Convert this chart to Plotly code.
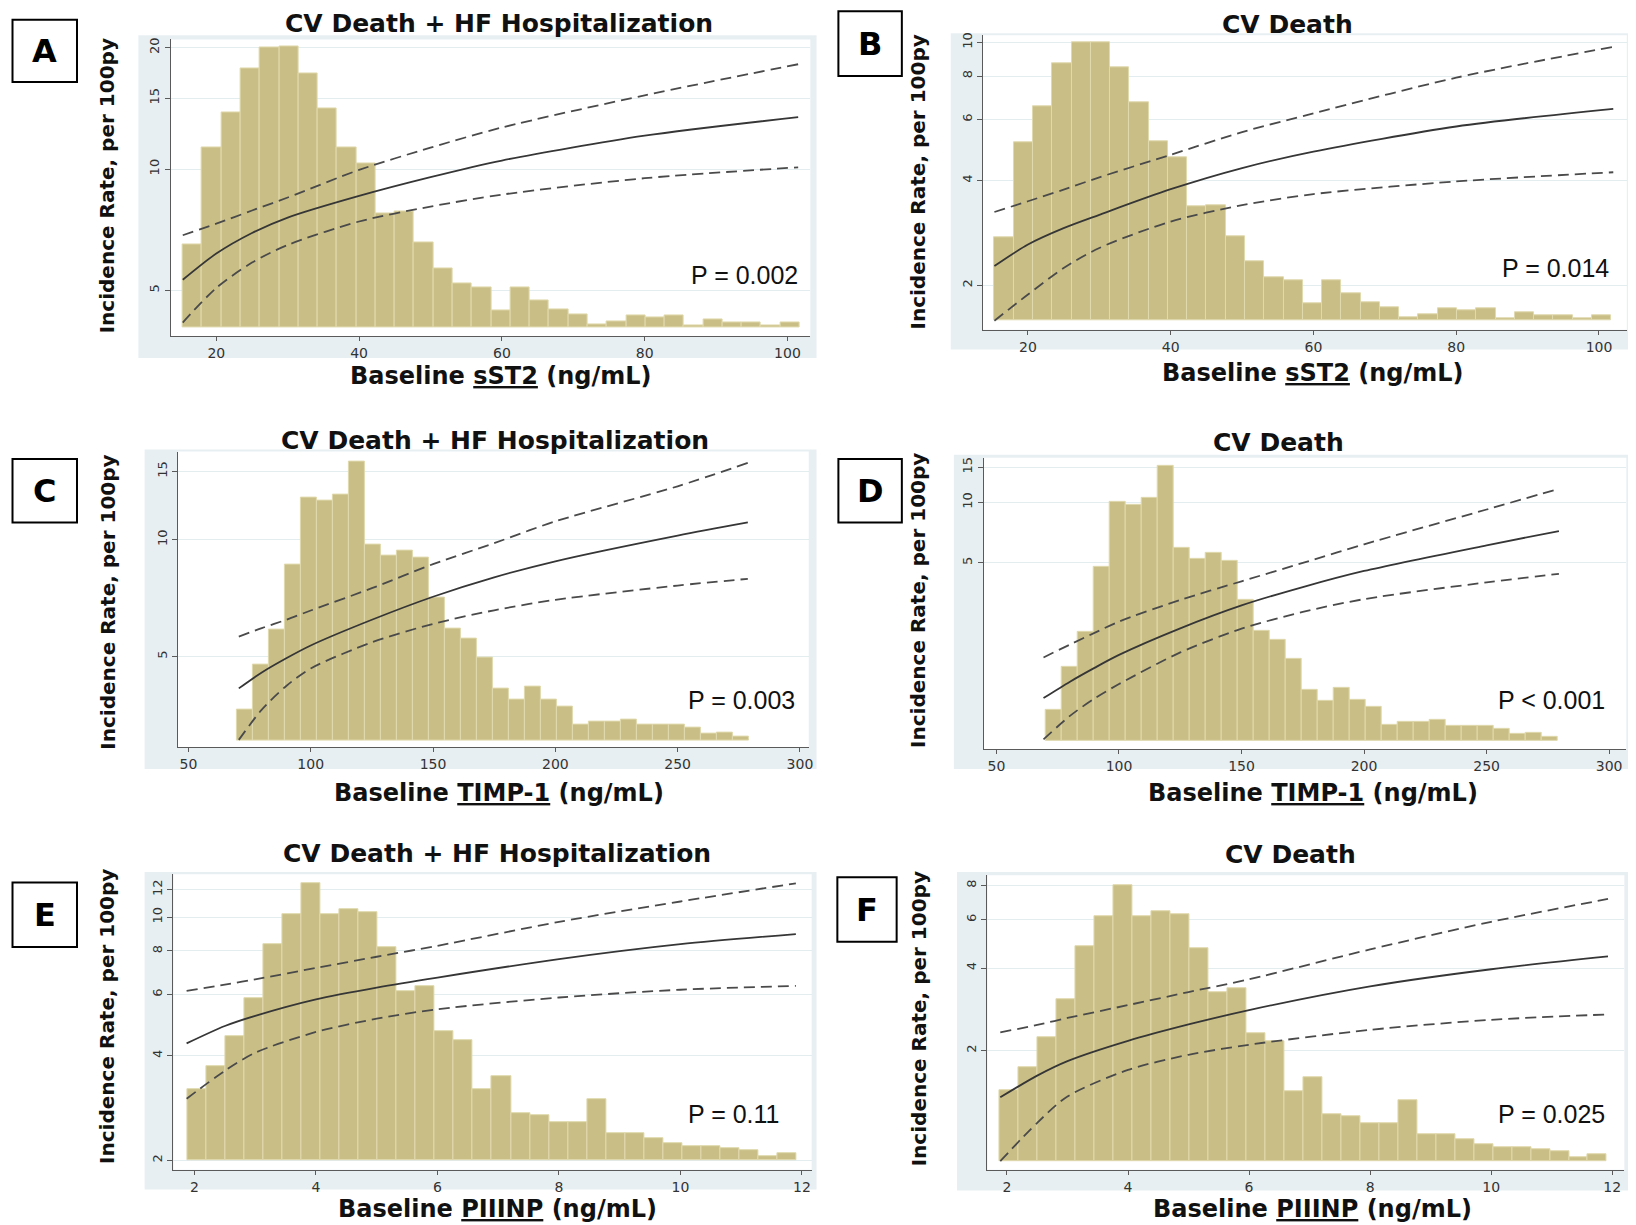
import plotly.graph_objects as go

# ---------------- data ----------------
# Histograms of the biomarker distribution (percent of patients per bin)
sst2_bin_start = 15.3
sst2_bin_width = 2.7
sst2_hist_pct = [3.02, 6.50, 7.79, 9.36, 10.11, 10.14, 9.20, 7.93, 6.52, 5.95, 4.14, 4.20,
                 3.08, 2.15, 1.59, 1.45, 0.64, 1.45, 0.99, 0.66, 0.48, 0.12, 0.24, 0.45,
                 0.36, 0.46, 0.08, 0.30, 0.18, 0.18, 0.08, 0.18]

timp1_bin_start = 70.0
timp1_bin_width = 6.53
timp1_hist_pct = [1.05, 2.54, 3.73, 5.93, 8.16, 8.05, 8.28, 9.37, 6.60, 6.21, 6.40, 6.15,
                  4.82, 3.75, 3.44, 2.79, 1.75, 1.38, 1.81, 1.39, 1.16, 0.54, 0.64, 0.64,
                  0.71, 0.53, 0.53, 0.53, 0.43, 0.25, 0.28, 0.15]

piiinp_bin_start = 1.88
piiinp_bin_width = 0.3135
piiinp_hist_pct = [2.18, 2.87, 3.78, 4.95, 6.57, 7.48, 8.43, 7.48, 7.64, 7.55, 6.50, 5.15,
                   5.30, 3.92, 3.66, 2.16, 2.57, 1.43, 1.38, 1.18, 1.18, 1.88, 0.82, 0.82,
                   0.69, 0.52, 0.44, 0.44, 0.39, 0.31, 0.13, 0.21]

# Incidence rate curves (per 100 py): fit, upper and lower 95% CI
a_x = [15.3, 20, 25, 30, 40, 50, 60, 80, 101.5]
a_fit = [5.31, 6.17, 6.94, 7.58, 8.58, 9.55, 10.5, 12.1, 13.45]
a_upper = [6.85, 7.32, 7.89, 8.50, 9.95, 11.30, 12.68, 15.24, 18.2]
a_lower = [4.16, 5.07, 5.86, 6.48, 7.41, 8.07, 8.64, 9.49, 10.1]

b_x = [15.3, 20, 25, 30, 40, 50, 60, 80, 102]
b_fit = [2.27, 2.62, 2.92, 3.19, 3.78, 4.35, 4.85, 5.73, 6.44]
b_upper = [3.25, 3.49, 3.77, 4.09, 4.75, 5.52, 6.25, 7.92, 9.72]
b_lower = [1.58, 1.88, 2.24, 2.56, 3.05, 3.40, 3.66, 3.98, 4.23]

c_x = [70.6, 80, 90, 100, 125, 150, 175, 200, 250, 278.7]
c_fit = [4.14, 4.55, 4.95, 5.34, 6.22, 7.13, 8.0, 8.8, 10.25, 11.08]
c_upper = [5.63, 5.92, 6.22, 6.57, 7.50, 8.65, 9.80, 11.15, 13.73, 15.77]
c_lower = [3.05, 3.65, 4.20, 4.66, 5.44, 6.07, 6.58, 7.00, 7.62, 7.93]

d_x = [69.2, 80, 90, 100, 125, 150, 175, 200, 250, 279.5]
d_fit = [1.06, 1.28, 1.50, 1.74, 2.36, 3.07, 3.79, 4.56, 6.12, 7.21]
d_upper = [1.69, 1.96, 2.24, 2.55, 3.27, 4.05, 5.0, 6.19, 9.23, 11.7]
d_lower = [0.66, 0.864, 1.055, 1.245, 1.79, 2.35, 2.85, 3.30, 4.00, 4.41]

e_x = [1.87, 2.5, 3, 4, 5, 6, 8, 10, 11.9]
e_fit = [4.34, 4.87, 5.21, 5.81, 6.28, 6.71, 7.58, 8.37, 8.95]
e_upper = [6.14, 6.40, 6.63, 7.15, 7.70, 8.28, 9.70, 11.10, 12.52]
e_lower = [3.01, 3.62, 4.08, 4.68, 5.11, 5.44, 5.88, 6.19, 6.35]

f_x = [1.89, 2.5, 3, 4, 5, 6, 8, 10, 11.93]
f_fit = [1.35, 1.62, 1.83, 2.17, 2.49, 2.81, 3.43, 3.96, 4.41]
f_upper = [2.33, 2.48, 2.63, 2.93, 3.27, 3.64, 4.68, 5.90, 7.15]
f_lower = [0.79, 1.09, 1.36, 1.70, 1.93, 2.10, 2.38, 2.59, 2.71]

# Text
panel_letters = ["A", "B", "C", "D", "E", "F"]
panel_titles = ["CV Death + HF Hospitalization", "CV Death",
                "CV Death + HF Hospitalization", "CV Death",
                "CV Death + HF Hospitalization", "CV Death"]
x_titles = ["Baseline <u>sST2</u> (ng/mL)", "Baseline <u>sST2</u> (ng/mL)",
            "Baseline <u>TIMP-1</u> (ng/mL)", "Baseline <u>TIMP-1</u> (ng/mL)",
            "Baseline <u>PIIINP</u> (ng/mL)", "Baseline <u>PIIINP</u> (ng/mL)"]
y_title = "Incidence Rate, per 100py"
p_values = ["P = 0.002", "P = 0.014", "P = 0.003", "P < 0.001", "P = 0.11", "P = 0.025"]

sst2_xticks = [20, 40, 60, 80, 100]
timp1_xticks = [50, 100, 150, 200, 250, 300]
piiinp_xticks = [2, 4, 6, 8, 10, 12]
a_yticks = [5, 10, 15, 20]
b_yticks = [2, 4, 6, 8, 10]
c_yticks = [5, 10, 15]
d_yticks = [5, 10, 15]
e_yticks = [2, 4, 6, 8, 10, 12]
f_yticks = [2, 4, 6, 8]

# ---------------- layout helpers ----------------
# The page body has the browser's default 8px margin, so the figure is made
# 8px smaller and every position is shifted back by that margin.
PAGE_W, PAGE_H = 1636, 1225
BODY_MARGIN = 8
FW, FH = PAGE_W - BODY_MARGIN, PAGE_H - BODY_MARGIN
S = PAGE_W / 1568.0  # measured positions are in a 1568-wide frame


def fx(x):
    return (x * S - BODY_MARGIN) / FW


def fy(y):
    return 1 - (y * S - BODY_MARGIN) / FH


panels = [
    dict(hist=(sst2_bin_start, sst2_bin_width, sst2_hist_pct), x=a_x, fit=a_fit, up=a_upper, lo=a_lower,
         frame=(164, 35, 779, 320), gray=(133, 31, 785, 341), xr=[13.6, 103.2], yr=[0.5855, 1.3216],
         hr=[-0.30, 10.41], xt=sst2_xticks, yt=a_yticks, title_xy=(480, 20), ytitle_xy=(103, 176),
         xtitle_xy=(482, 358), p_xy=(769, 261), box=(12, 16, 74, 76)),
    dict(hist=(sst2_bin_start, sst2_bin_width, sst2_hist_pct), x=b_x, fit=b_fit, up=b_upper, lo=b_lower,
         frame=(945, 31, 1564, 314), gray=(914, 29, 1568, 333), xr=[13.7, 103.9], yr=[0.1725, 1.0208],
         hr=[-0.34, 10.38], xt=sst2_xticks, yt=b_yticks, title_xy=(1238, 21), ytitle_xy=(883, 172),
         xtitle_xy=(1262, 355), p_xy=(1549, 255), box=(806, 8, 867, 70)),
    dict(hist=(timp1_bin_start, timp1_bin_width, timp1_hist_pct), x=c_x, fit=c_fit, up=c_upper, lo=c_lower,
         frame=(171, 431, 777.5, 715), gray=(139, 429, 785, 736), xr=[45.7, 303.6], yr=[0.4655, 1.227],
         hr=[-0.22, 9.71], xt=timp1_xticks, yt=c_yticks, title_xy=(476, 420), ytitle_xy=(103, 576),
         xtitle_xy=(480, 759), p_xy=(766, 670), box=(12, 438, 74, 499)),
    dict(hist=(timp1_bin_start, timp1_bin_width, timp1_hist_pct), x=d_x, fit=d_fit, up=d_upper, lo=d_lower,
         frame=(945.7, 437, 1563.5, 717), gray=(917, 434, 1568, 736), xr=[44.8, 307], yr=[-0.2298, 1.2227],
         hr=[-0.28, 9.65], xt=timp1_xticks, yt=d_yticks, title_xy=(1229, 422), ytitle_xy=(883, 574),
         xtitle_xy=(1262, 759), p_xy=(1545, 670), box=(806, 438, 867, 499)),
    dict(hist=(piiinp_bin_start, piiinp_bin_width, piiinp_hist_pct), x=e_x, fit=e_fit, up=e_upper, lo=e_lower,
         frame=(166.7, 837, 780.3, 1121), gray=(139, 835, 785, 1140), xr=[1.653, 12.16], yr=[0.2742, 1.1239],
         hr=[-0.28, 8.71], xt=piiinp_xticks, yt=e_yticks, title_xy=(478, 817), ytitle_xy=(103, 974),
         xtitle_xy=(478, 1159), p_xy=(752, 1067), box=(12, 845, 74, 907)),
    dict(hist=(piiinp_bin_start, piiinp_bin_width, piiinp_hist_pct), x=f_x, fit=f_fit, up=f_upper, lo=f_lower,
         frame=(949.3, 838, 1561.6, 1121), gray=(920, 835, 1568, 1141), xr=[1.678, 12.2], yr=[-0.134, 0.941],
         hr=[-0.25, 8.73], xt=piiinp_xticks, yt=f_yticks, title_xy=(1241, 818), ytitle_xy=(883, 976),
         xtitle_xy=(1262, 1159), p_xy=(1545, 1067), box=(805, 840, 862, 902)),
]

BAR_COLOR = "#C9BF86"
LINE_COLOR = "#363636"
DASH_COLOR = "#4a4a4a"
AXIS_COLOR = "#5a5a5a"
GRID_COLOR = "#E3ECEF"
REGION_COLOR = "#E8EFF2"
TITLE_FONT = "DejaVu Sans"

fig = go.Figure()
shapes = []
annotations = []
layout_axes = {}

for i, p in enumerate(panels):
    xn = i + 1
    hn = 2 * i + 1
    ln = 2 * i + 2
    xref = "x" if xn == 1 else f"x{xn}"
    href = "y" if hn == 1 else f"y{hn}"
    lref = f"y{ln}"
    xkey = "xaxis" if xn == 1 else f"xaxis{xn}"
    hkey = "yaxis" if hn == 1 else f"yaxis{hn}"
    lkey = f"yaxis{ln}"

    left, top, right, bottom = p["frame"]

    # histogram bars
    start, width, pct = p["hist"]
    centers = [start + width * (k + 0.5) for k in range(len(pct))]
    fig.add_trace(go.Bar(x=centers, y=pct, width=width, xaxis=xref, yaxis=href,
                         marker=dict(color=BAR_COLOR, line=dict(color="#E0D9AE", width=1)),
                         showlegend=False, hoverinfo="skip"))
    # curves
    for key, color, dash in (("up", DASH_COLOR, "11px,6px"), ("lo", DASH_COLOR, "11px,6px"),
                             ("fit", LINE_COLOR, "solid")):
        fig.add_trace(go.Scatter(x=p["x"], y=p[key], mode="lines", xaxis=xref, yaxis=lref,
                                 line=dict(color=color, width=1.8, dash=dash, shape="spline",
                                           smoothing=0.8),
                                 showlegend=False, hoverinfo="skip"))

    layout_axes[xkey] = dict(domain=[fx(left), fx(right)], range=p["xr"], anchor=href,
                             tickvals=p["xt"], ticks="outside", ticklen=4, tickcolor=AXIS_COLOR,
                             showline=True, linecolor=AXIS_COLOR, linewidth=1.2, showgrid=False,
                             zeroline=False, tickfont=dict(family="DejaVu Sans", size=14, color="#333"),
                             fixedrange=True)
    layout_axes[hkey] = dict(domain=[fy(bottom), fy(top)], range=p["hr"], anchor=xref, visible=False,
                             showgrid=False, zeroline=False, fixedrange=True)
    layout_axes[lkey] = dict(overlaying=href, anchor=xref, side="left", type="log", range=p["yr"],
                             tickvals=p["yt"], ticktext=[str(v) for v in p["yt"]], tickangle=-90,
                             ticks="outside", ticklen=5, tickcolor=AXIS_COLOR, showline=True,
                             linecolor=AXIS_COLOR, linewidth=1.2, showgrid=True, gridcolor=GRID_COLOR,
                             gridwidth=1, zeroline=False,
                             tickfont=dict(family="DejaVu Sans", size=13, color="#333"), fixedrange=True)

    # graph region (light blue-grey) and white plot region
    gl, gt, gr, gb = p["gray"]
    shapes.append(dict(type="rect", xref="paper", yref="paper", x0=fx(gl), x1=fx(gr), y0=fy(gb), y1=fy(gt),
                       fillcolor=REGION_COLOR, line=dict(width=0), layer="below"))
    shapes.append(dict(type="rect", xref="paper", yref="paper", x0=fx(left), x1=fx(right), y0=fy(bottom),
                       y1=fy(top), fillcolor="white", line=dict(width=0), layer="below"))

    # panel letter box
    bl, bt, br, bb = p["box"]
    shapes.append(dict(type="rect", xref="paper", yref="paper", x0=fx(bl), x1=fx(br), y0=fy(bb), y1=fy(bt),
                       fillcolor="white", line=dict(color="black", width=2), layer="above"))
    annotations.append(dict(text=f"<b>{panel_letters[i]}</b>", xref="paper", yref="paper",
                            x=fx((bl + br) / 2), y=fy((bt + bb) / 2), xanchor="center", yanchor="middle",
                            showarrow=False, font=dict(family=TITLE_FONT, size=32, color="black")))

    # titles
    tx, ty = p["title_xy"]
    annotations.append(dict(text=f"<b>{panel_titles[i]}</b>", xref="paper", yref="paper", x=fx(tx), y=fy(ty),
                            xanchor="center", yanchor="middle", showarrow=False,
                            font=dict(family=TITLE_FONT, size=25, color="#111")))
    ax_, ay_ = p["xtitle_xy"]
    annotations.append(dict(text=f"<b>{x_titles[i]}</b>", xref="paper", yref="paper", x=fx(ax_), y=fy(ay_),
                            xanchor="center", yanchor="middle", showarrow=False,
                            font=dict(family=TITLE_FONT, size=24, color="#111")))
    yx, yy = p["ytitle_xy"]
    annotations.append(dict(text=f"<b>{y_title}</b>", xref="paper", yref="paper", x=fx(yx), y=fy(yy),
                            xanchor="center", yanchor="middle", textangle=-90, showarrow=False,
                            font=dict(family=TITLE_FONT, size=20, color="#111")))
    px_, py_ = p["p_xy"]
    annotations.append(dict(text=p_values[i], xref="paper", yref="paper", x=fx(px_), y=fy(py_),
                            xanchor="right", yanchor="middle", showarrow=False,
                            font=dict(family="Liberation Sans Narrow, Liberation Sans", size=25, color="#111")))

fig.update_layout(
    width=FW, height=FH,
    margin=dict(l=0, r=0, t=0, b=0),
    paper_bgcolor="white",
    plot_bgcolor="rgba(0,0,0,0)",
    bargap=0,
    barmode="overlay",
    showlegend=False,
    hovermode=False,
    shapes=shapes,
    annotations=annotations,
    **layout_axes,
)

fig.write_html("out.html")
